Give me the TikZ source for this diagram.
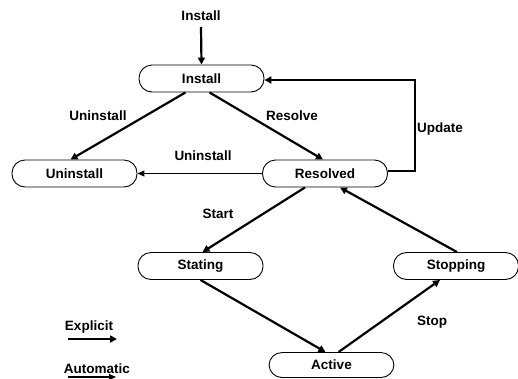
\documentclass[tikz,border=0pt]{standalone}
\usepackage{fontspec}
\setmainfont{Liberation Sans}
\usetikzlibrary{arrows.meta,calc}
\begin{document}
\begin{tikzpicture}[x=1pt,y=-1pt,
  state/.style={draw, line width=0.9pt, rounded corners=13pt, minimum width=125pt, minimum height=27pt, inner sep=0pt, font=\fontsize{13.5}{15}\selectfont\bfseries},
  lbl/.style={inner sep=0pt, font=\fontsize{13.5}{15}\selectfont\bfseries},
  explicit/.style={line width=2.2pt, -{Triangle[length=7pt,width=7pt]}},
  automatic/.style={line width=1.2pt, -{Triangle[length=7pt,width=6pt]}}]
\useasboundingbox (0,0) rectangle (518,378);
\node[state] (inst) at (201.5,78.5) {Install};
\node[state] (uninst) at (74.5,173.5) {Uninstall};
\node[state] (res) at (325,173.5) {Resolved};
\node[state] (stat) at (200.5,266) {Stating};
\node[state] (stop) at (456,266) {Stopping};
\node[state, minimum height=25pt] (act) at (331.5,365) {Active};

\node[lbl] (ltop) at (201,16) {Install};
\node[lbl] (lun1) at (98,116) {Uninstall};
\node[lbl] (lres) at (292,116) {Resolve};
\node[lbl] (lun2) at (203,156) {Uninstall};
\node[lbl] (lupd) at (440,129) {Update};
\node[lbl] (lsta) at (218,214) {Start};
\node[lbl] (lsto) at (432,322) {Stop};
\node[lbl] (lexp) at (89,327) {Explicit};
\node[lbl] (laut) at (97,369) {Automatic};

\draw[explicit] (201,27) -- (inst.north);
\draw[explicit] ($(inst.south)+(-16,0)$) -- ($(uninst.north)+(-4,0)$);
\draw[explicit] ($(inst.south)+(8,0)$) -- ($(res.north)+(-2,0)$);
\draw[automatic] (res.west) -- (uninst.east);
\coordinate (upd) at (415,125);
\draw[line width=2pt, -{Triangle[length=7pt,width=7pt]}] ($(res.east)+(0,-3)$) -| (upd) |- ($(inst.east)+(0,1.5)$);
\draw[explicit] ($(res.south)+(-20,0)$) -- ($(stat.north)+(2,0)$);
\draw[explicit] (stat.south) -- ($(act.north)+(-6,0)$);
\draw[explicit] ($(act.north)+(7,0)$) -- ($(stop.south)+(-16,0)$);
\draw[explicit] ($(stop.north)+(1,0)$) -- ($(res.south)+(15,0)$);

\coordinate (e1) at (68,339);
\coordinate (e2) at (117,339);
\coordinate (a1) at (68,377);
\coordinate (a2) at (116,377);
\draw[explicit] (e1) -- (e2);
\draw[automatic] (a1) -- (a2);
\end{tikzpicture}
\end{document}
